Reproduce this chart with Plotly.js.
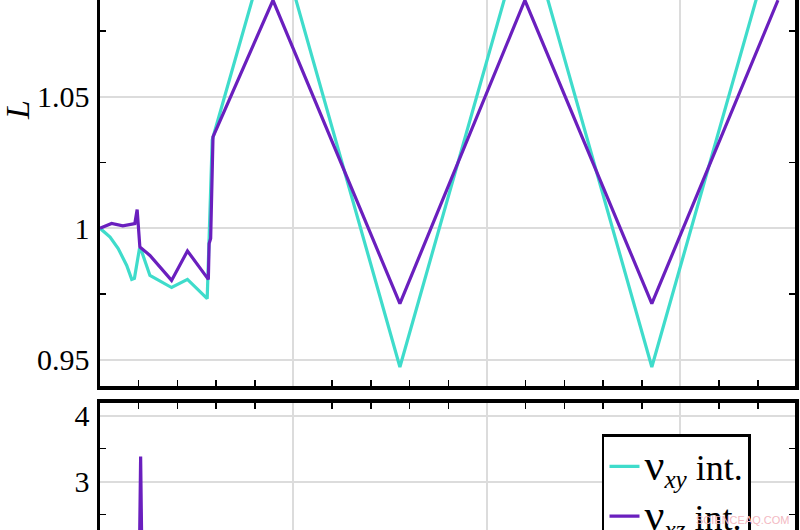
<!DOCTYPE html>
<html>
<head>
<meta charset="utf-8">
<script src="https://cdn.plot.ly/plotly-3.0.1.min.js"></script>
<style>
  html, body { margin: 0; padding: 0; background: #fff; overflow: hidden; }
  #chart { width: 800px; height: 600px; }
</style>
</head>
<body>
<div id="chart"></div>
<script>
// upper panel: L against x
const xCyanTop = [0, 0.26, 0.47, 0.69, 0.82, 0.89, 1.02, 1.07, 1.29, 1.85, 2.26, 2.77, 2.90, 4.50, 7.75, 11.01, 14.26, 17.52];
const cyanTop  = [1.0, 0.9967, 0.9923, 0.9859, 0.9806, 0.9810, 0.9923, 0.9915, 0.9821, 0.9775, 0.9806, 0.9733, 1.0335, 1.116, 0.9473, 1.116, 0.9473, 1.116];

const xPurpleTop = [0, 0.30, 0.59, 0.90, 0.96, 1.03, 1.29, 1.85, 2.26, 2.80, 2.82, 2.86, 2.92, 4.47, 7.75, 10.98, 14.26, 17.52];
const purpleTop  = [1.0, 1.0018, 1.0009, 1.0018, 1.0071, 0.9929, 0.9897, 0.9802, 0.9914, 0.9806, 0.9942, 0.9961, 1.0347, 1.0866, 0.9714, 1.0866, 0.9714, 1.0866];

// lower panel (only its top part is in frame)
const xCyanBottom = [0, 1.0, 1.05, 1.1, 17.52];
const cyanBottom  = [1.0, 1.0, 1.6, 1.0, 1.0];
const xPurpleBottom = [0, 1.0, 1.05, 1.1, 17.52];
const purpleBottom  = [1.0, 1.0, 3.38, 1.0, 1.0];

const legendNames = [
    '<span style="font-size:44px">ν</span><sub><i>xy</i></sub> int.',
    '<span style="font-size:44px">ν</span><sub><i>xz</i></sub> int.'
];
const CYAN = '#3fdccb';
const PURPLE = '#6a1fbe';
const SERIF = 'Liberation Serif, Times New Roman, serif';

// figure is taller than the window: the bottom is cut off like the original crop
const H = 600;
const py = (px) => 1 - px / H;

const traces = [
    { x: xCyanTop, y: cyanTop, xaxis: 'x', yaxis: 'y', mode: 'lines', name: legendNames[0],
      line: { color: CYAN, width: 3.2 } },
    { x: xPurpleTop, y: purpleTop, xaxis: 'x', yaxis: 'y', mode: 'lines', name: legendNames[1],
      line: { color: PURPLE, width: 3.2 } },
    { x: xCyanBottom, y: cyanBottom, xaxis: 'x2', yaxis: 'y2', mode: 'lines', showlegend: false,
      line: { color: CYAN, width: 3.2 } },
    { x: xPurpleBottom, y: purpleBottom, xaxis: 'x2', yaxis: 'y2', mode: 'lines', showlegend: false,
      line: { color: PURPLE, width: 3.2 } }
];

const grid = '#dcdcdc';
const minorTicks = (d) => ({ dtick: d, ticks: 'inside', ticklen: 6, tickwidth: 1.5, tickcolor: '#000', showgrid: false });

const baseX = {
    range: [0, 17.96], dtick: 5, tick0: 0, ticks: '', showticklabels: false,
    showgrid: true, gridcolor: grid, gridwidth: 2, zeroline: false,
    showline: true, linecolor: '#000', linewidth: 3.5, mirror: false,
    minor: minorTicks(1)
};

const baseY = {
    ticks: '', showgrid: true, gridcolor: grid, gridwidth: 2, zeroline: false,
    showline: true, linecolor: '#000', linewidth: 3.5, mirror: 'ticks',
    tickfont: { family: SERIF, size: 30, color: '#000' }, ticklabelstandoff: 1
};

const layout = {
    width: 800, height: H,
    margin: { l: 100, r: 5, t: 0, b: 0 },
    paper_bgcolor: '#fff', plot_bgcolor: '#fff',
    font: { family: SERIF, color: '#000' },
    showlegend: true,
    xaxis: Object.assign({}, baseX, { domain: [0, 1], anchor: 'y', side: 'bottom' }),
    yaxis: Object.assign({}, baseY, { domain: [py(386), 1], anchor: 'x', range: [0.9401, 1.0867],
        dtick: 0.05, tick0: 0, minor: minorTicks(0.025) }),
    xaxis2: Object.assign({}, baseX, { domain: [0, 1], anchor: 'y2', side: 'top' }),
    yaxis2: Object.assign({}, baseY, { domain: [0, py(402.5)], anchor: 'x2', range: [1.208, 4.2],
        dtick: 1, tick0: 0, minor: minorTicks(0.5) }),
    legend: {
        x: 0.7223, y: py(434), xanchor: 'left', yanchor: 'top',
        bgcolor: '#fff', bordercolor: '#000', borderwidth: 2.5,
        font: { family: SERIF, size: 36, color: '#000' },
        itemwidth: 30
    },
    annotations: [
        { xref: 'paper', yref: 'paper', x: -0.1194, y: py(110), xanchor: 'center', yanchor: 'middle',
          text: 'L', showarrow: false, textangle: -90,
          font: { family: SERIF, size: 34, style: 'italic', color: '#000' } },
        { xref: 'paper', yref: 'paper', x: 0.925, y: py(520), xanchor: 'center', yanchor: 'middle',
          text: 'SCIENCEAQ.COM', showarrow: false,
          font: { family: 'Liberation Sans Narrow, Liberation Sans, sans-serif', size: 11, color: '#f3b9c2' } }
    ]
};

Plotly.newPlot('chart', traces, layout, { displayModeBar: false, staticPlot: true });
</script>
</body>
</html>
